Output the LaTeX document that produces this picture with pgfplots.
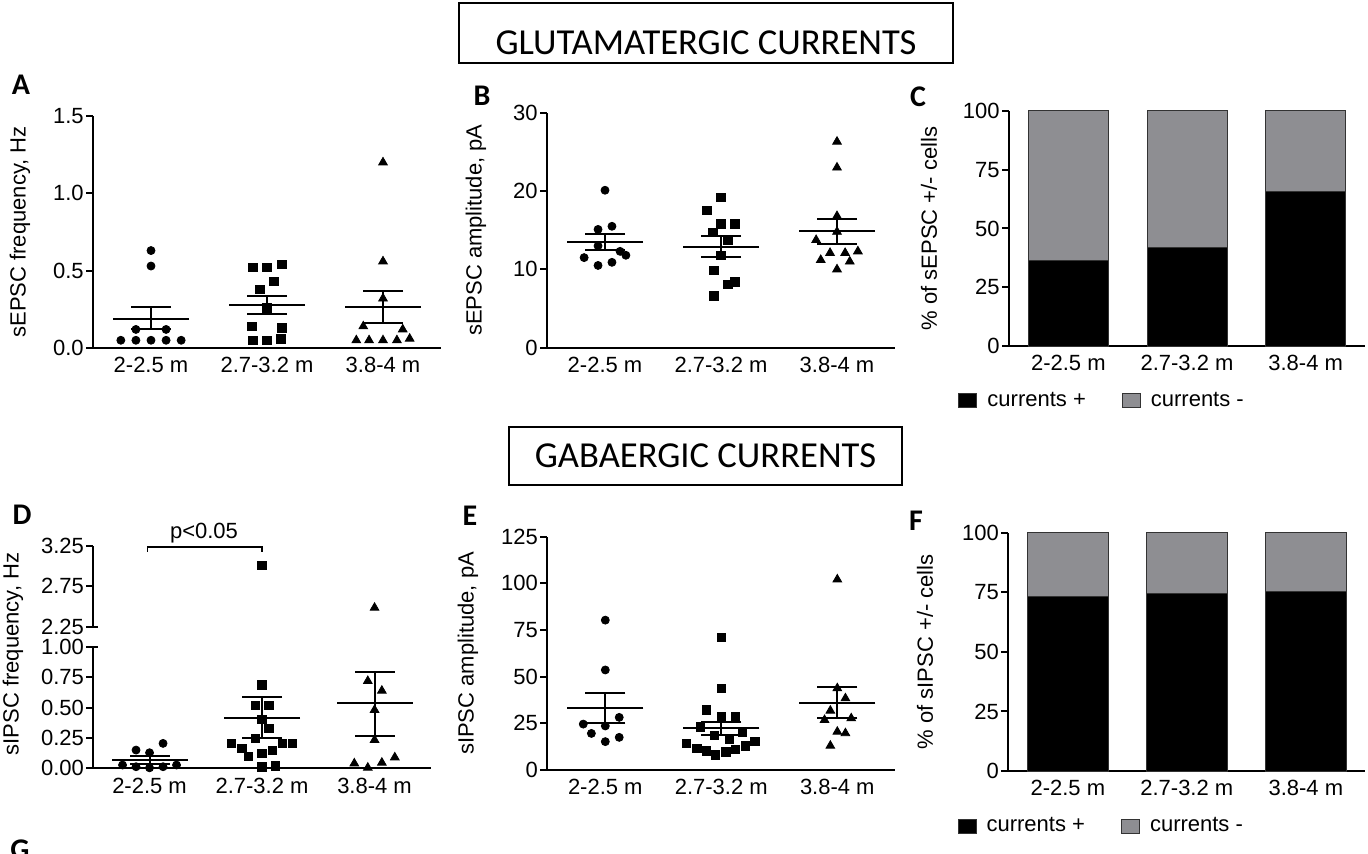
\documentclass[border=0pt]{standalone}
\usepackage{fontspec}
\setmainfont{Liberation Sans}
\newfontfamily\cali{Carlito}
\usepackage{pgfplots}
\pgfplotsset{compat=1.18}
\definecolor{barGrey}{RGB}{142,142,146}
\newcommand\fs{\fontsize{11}{13}\selectfont}
\pgfplotsset{
  prism/.style={
    scale only axis, clip=false, anchor=south west,
    axis x line*=bottom, axis y line*=left,
    axis line style={line width=1pt, black},
    tick align=outside, major tick length=3.5pt,
    every tick/.style={line width=1pt, black},
    xmin=0.5, xmax=3.5, xtick={1,2,3},
    xticklabels={2-2.5 m, 2.7-3.2 m, 3.8-4 m},
    major x tick style={draw=none},
    tick label style={font=\fs},
    yticklabel style={inner sep=1pt},
    xticklabel style={inner sep=0pt, yshift=-1pt},
    label style={font=\fs},
    /pgf/number format/assume math mode=true,
  },
  circ/.style={only marks, mark=*, mark size=2pt, mark options={fill=black, draw=black, line width=0.4pt}},
  sq/.style={only marks, mark=square*, mark size=2.1pt, mark options={fill=black, draw=black, line width=0.4pt}},
  tri/.style={only marks, mark=triangle*, mark size=2.5pt, mark options={fill=black, draw=black, line width=0.4pt}},
  mline/.style={only marks, mark=-, mark size=19pt, mark options={line width=1pt, black}},
  capl/.style={only marks, mark=-, mark size=10pt, mark options={line width=1pt, black}},
  vline/.style={black, line width=1pt, no marks},
  blackbar/.style={fill=black, draw=black!80, line width=0.5pt, legend image code/.code={\draw[fill=black, draw=black!80, line width=0.5pt] (0pt,-3.5pt) rectangle (9pt,3.5pt);}},
  greybar/.style={fill=barGrey, draw=black!80, line width=0.5pt, legend image code/.code={\draw[fill=barGrey, draw=black!80, line width=0.5pt] (0pt,-3.5pt) rectangle (9pt,3.5pt);}},
  leg/.style={legend style={at={(axis description cs:-0.16,#1)}, anchor=west, draw=none, fill=none, legend columns=2, font=\fs,
     /tikz/every odd column/.append style={column sep=3pt},
     /tikz/every even column/.append style={column sep=16pt}}},
}
\newcommand\msem[4]{%
  \addplot[mline] coordinates {(#1,#2)};
  \addplot[capl] coordinates {(#1,#3) (#1,#4)};
  \addplot[vline] coordinates {(#1,#3) (#1,#4)};
}
\begin{document}
\begin{tikzpicture}
\useasboundingbox (0,0) rectangle (684pt,426.5pt);

% section boxes
\draw[line width=1pt] (229.5pt,395pt) rectangle (476.5pt,425pt);
\node[font=\cali\fontsize{18.3}{22}\selectfont, anchor=base] at (353pt,399pt) {GLUTAMATERGIC CURRENTS};
\draw[line width=1pt] (254.5pt,184pt) rectangle (451pt,213pt);
\node[font=\cali\fontsize{18.3}{22}\selectfont, anchor=center] at (352.75pt,198.5pt) {GABAERGIC CURRENTS};

% panel letters
\begin{scope}[every node/.style={font=\cali\bfseries\fontsize{15}{18}\selectfont, inner sep=0pt}]
\node at (10.5pt,384pt) {A};
\node at (241pt,378.5pt) {B};
\node at (459pt,378pt) {C};
\node at (11pt,169pt) {D};
\node at (235pt,168.5pt) {E};
\node at (458pt,166pt) {F};
\node at (10pt,1.5pt) {G};
\end{scope}

% ---------- A ----------
\begin{axis}[prism, at={(46.5pt,252.5pt)}, width=174pt, height=116pt,
  ymin=0, ymax=1.5, ytick={0,0.5,1,1.5}, yticklabels={0.0,0.5,1.0,1.5},
  ylabel={sEPSC frequency, Hz}, ylabel style={at={(axis description cs:-0.21,0.5)}, anchor=center}]
\addplot[circ] coordinates {(1,0.63) (1,0.53) (0.87,0.12) (1.13,0.12) (0.74,0.05) (0.87,0.05) (1,0.05) (1.13,0.05) (1.26,0.05)};
\msem{1}{0.19}{0.12}{0.263}
\addplot[sq] coordinates {(1.88,0.52) (2,0.52) (2.13,0.54) (2.06,0.43) (1.94,0.38) (2.0,0.26) (1.87,0.14) (2.13,0.13) (1.88,0.05) (2.0,0.05) (2.12,0.06)};
\msem{2}{0.276}{0.22}{0.338}
\addplot[tri] coordinates {(3,1.2) (3,0.56) (3,0.32) (2.83,0.14) (3.17,0.12) (2.77,0.05) (2.88,0.05) (3.0,0.05) (3.12,0.05) (3.23,0.06)};
\msem{3}{0.265}{0.16}{0.37}
\end{axis}

% ---------- B ----------
\begin{axis}[prism, at={(273.5pt,252.65pt)}, width=174pt, height=117.5pt,
  ymin=0, ymax=30, ytick={0,10,20,30},
  ylabel={sEPSC amplitude, pA}, ylabel style={at={(axis description cs:-0.204,0.5)}, anchor=center}]
\addplot[circ] coordinates {(1.0,20.1) (0.94,15.1) (1.06,15.5) (0.94,13.0) (0.82,11.5) (0.94,10.5) (1.06,10.9) (1.13,12.3) (1.18,11.8)};
\msem{1}{13.45}{12.5}{14.5}
\addplot[sq] coordinates {(2.0,19.2) (1.88,17.5) (2.0,15.8) (2.12,15.8) (1.93,14.7) (2.06,13.75) (2.0,11.8) (1.94,9.9) (2.06,8.1) (2.12,8.4) (1.94,6.6)};
\msem{2}{12.9}{11.6}{14.2}
\addplot[tri] coordinates {(3,26.3) (3,23.0) (3,16.8) (3,14.8) (2.82,13.75) (2.86,11.2) (2.94,12.1) (3.0,10.0) (3.07,12.1) (3.11,11.0) (3.18,12.3)};
\msem{3}{14.85}{13.25}{16.4}
\end{axis}

% ---------- C ----------
\begin{axis}[prism, at={(504.5pt,253.4pt)}, width=178pt, height=117.75pt,
  ybar stacked, bar width=40pt, ymin=0, ymax=100, ytick={0,25,50,75,100},
  ylabel={\% of sEPSC +/- cells}, ylabel style={at={(axis description cs:-0.225,0.5)}, anchor=center},
  leg=-0.232]
\addplot[blackbar] coordinates {(1,36.4) (2,41.7) (3,65.6)};
\addplot[greybar] coordinates {(1,63.6) (2,58.3) (3,34.4)};
\legend{currents +, currents -}
\end{axis}

% ---------- D lower ----------
\begin{axis}[prism, at={(46.65pt,42.35pt)}, width=168.75pt, height=60.8pt,
  ymin=0, ymax=1, ytick={0,0.25,0.5,0.75,1}, yticklabels={0.00,0.25,0.50,0.75,1.00},
  ylabel={sIPSC frequency, Hz}, ylabel style={at={(axis description cs:-0.238,0.94)}, anchor=center}]
\draw[line width=1pt] (rel axis cs:0,1) -- ++(2.5pt,0pt);
\addplot[circ] coordinates {(0.76,0.027) (0.88,0.15) (0.88,0.013) (1.0,0.128) (1.0,0.004) (1.12,0.205) (1.12,0.013) (1.24,0.027)};
\msem{1}{0.068}{0.035}{0.101}
\addplot[sq] coordinates {(2.0,0.685) (1.94,0.515) (2.06,0.515) (2.0,0.40) (2.06,0.33) (1.94,0.247) (1.73,0.205) (2.18,0.205) (2.27,0.205) (1.82,0.164) (1.88,0.10) (2.0,0.123) (2.09,0.145) (2.0,0.013) (2.12,0.02)};
\msem{2}{0.416}{0.247}{0.587}
\addplot[tri] coordinates {(2.94,0.718) (3.065,0.638) (3.0,0.48) (3.0,0.233) (2.82,0.04) (2.94,0.005) (3.065,0.046) (3.18,0.09)};
\msem{3}{0.535}{0.268}{0.795}
\end{axis}

% ---------- D upper ----------
\begin{axis}[prism, axis x line=none, at={(46.65pt,113.15pt)}, width=168.75pt, height=40.35pt,
  ymin=2.25, ymax=3.25, ytick={2.25,2.75,3.25}, yticklabels={2.25,2.75,3.25}]
\draw[line width=1pt] (rel axis cs:0,0) -- ++(2.5pt,0pt);
\addplot[sq] coordinates {(2,3.01)};
\addplot[tri] coordinates {(3,2.485)};
\draw[line width=0.8pt] (axis cs:0.98,3.18) -- (axis cs:0.98,3.24) -- (axis cs:2.0,3.24) -- (axis cs:2.0,3.18);
\node[font=\fs, anchor=base] at (axis cs:1.484,3.345) {p<0.05};
\end{axis}

% ---------- E ----------
\begin{axis}[prism, at={(273.65pt,41.5pt)}, width=174pt, height=116.65pt,
  ymin=0, ymax=125, ytick={0,25,50,75,100,125},
  ylabel={sIPSC amplitude, pA}, ylabel style={at={(axis description cs:-0.228,0.5)}, anchor=center}]
\addplot[circ] coordinates {(1.0,80.3) (1.0,53.6) (1.12,28.2) (0.81,24.6) (1.0,23.6) (0.88,19.6) (1.12,17.5) (1.0,15.2)};
\msem{1}{33.0}{25.0}{41.1}
\addplot[sq] coordinates {(2.0,71.1) (2.0,43.8) (1.87,32.1) (2.0,28.5) (2.12,28.5) (1.82,23.2) (1.94,18.4) (2.07,16.4) (2.18,20.2) (1.70,14.3) (1.79,11.6) (1.87,10.2) (1.95,8.0) (2.04,9.8) (2.12,11.1) (2.21,12.9) (2.29,15.2)};
\msem{2}{22.3}{18.6}{25.8}
\addplot[tri] coordinates {(3.0,102.1) (3.0,43.8) (3.07,38.4) (2.94,31.8) (2.89,26.8) (3.12,27.7) (3.0,20.5) (3.07,19.7) (2.94,13.0)};
\msem{3}{36.1}{27.7}{44.6}
\end{axis}

% ---------- F ----------
\begin{axis}[prism, at={(504.15pt,41pt)}, width=178.5pt, height=119.15pt,
  ybar stacked, bar width=40.5pt, ymin=0, ymax=100, ytick={0,25,50,75,100},
  ylabel={\% of sIPSC +/- cells}, ylabel style={at={(axis description cs:-0.233,0.5)}, anchor=center},
  leg=-0.231]
\addplot[blackbar] coordinates {(1,73.4) (2,74.6) (3,75.5)};
\addplot[greybar] coordinates {(1,26.6) (2,25.4) (3,24.5)};
\legend{currents +, currents -}
\end{axis}
\end{tikzpicture}
\end{document}
